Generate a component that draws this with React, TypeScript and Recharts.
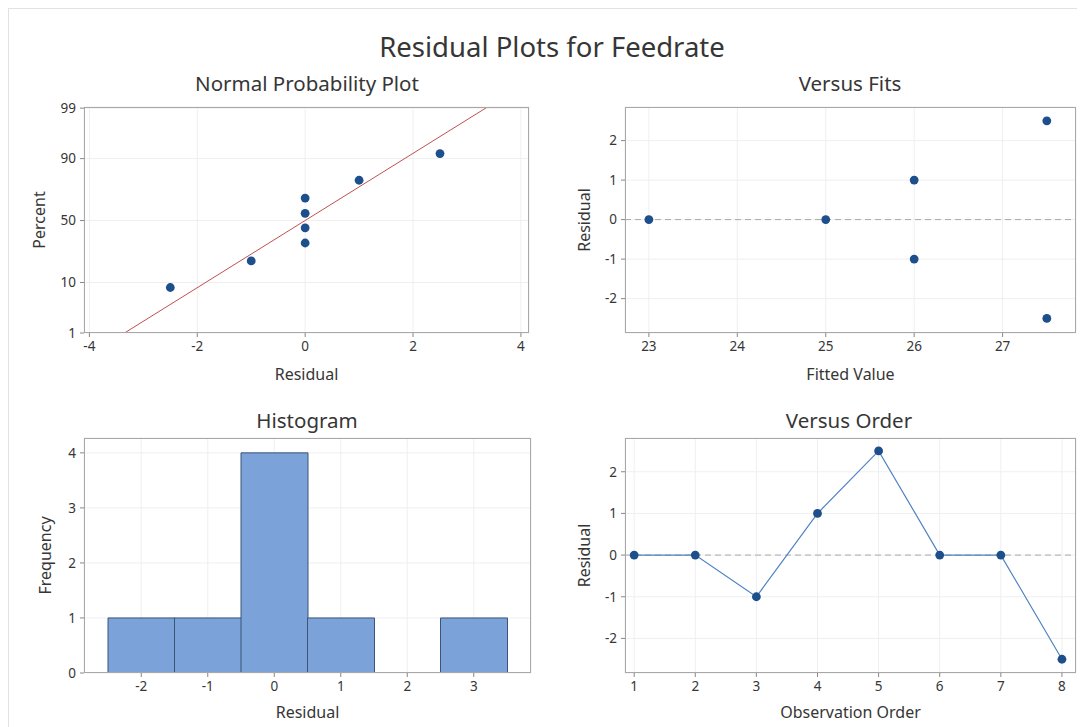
import { ScatterChart, Scatter, BarChart, Bar, XAxis, YAxis, CartesianGrid, ReferenceLine } from 'recharts';

// normal probability plot
const probResid = [-2.5, -1, 0, 0, 0, 0, 1, 2.5];
const probPercent = [8.3, 20.2, 32.1, 44.0, 56.0, 67.9, 79.8, 91.7];
const fitLineResid = [-3.35, 3.38];
const fitLinePercent = [1, 99.06];
const percentTicks = [1, 10, 50, 90, 99];
const probResidTicks = [-4, -2, 0, 2, 4];

// versus fits
const fittedValues = [23, 25, 26, 26, 27.5, 27.5];
const fitsResid = [0, 0, 1, -1, 2.5, -2.5];
const fittedTicks = [23, 24, 25, 26, 27];
const residTicks = [-2, -1, 0, 1, 2];

// histogram
const binLabels = [-2, -1, 0, 1, 2, 3];
const binCounts = [1, 1, 4, 1, 0, 1];
const freqTicks = [0, 1, 2, 3, 4];

// versus order
const orderNums = [1, 2, 3, 4, 5, 6, 7, 8];
const orderResid = [0, 0, -1, 1, 2.5, 0, 0, -2.5];

// normal quantile (Abramowitz & Stegun 26.2.23), used as the probability axis scale
function probit(p: number) {
  const q = p < 0.5 ? p : 1 - p;
  const t = Math.sqrt(-2 * Math.log(q));
  const z = t - (2.515517 + 0.802853 * t + 0.010328 * t * t) / (1 + 1.432788 * t + 0.189269 * t * t + 0.001308 * t * t * t);
  return p < 0.5 ? -z : z;
}

const probData = probResid.map((r, i) => ({ x: r, y: probit(probPercent[i] / 100) }));
const zTicks = percentTicks.map((p) => probit(p / 100));
const fitSegment = fitLineResid.map((r, i) => ({ x: r, y: probit(fitLinePercent[i] / 100) }));
const fitsData = fittedValues.map((f, i) => ({ x: f, y: fitsResid[i] }));
const histData = binLabels.map((b, i) => ({ label: b, count: binCounts[i] }));
const orderData = orderNums.map((o, i) => ({ x: o, y: orderResid[i] }));

const YW = 70;
const MT = 10;
const MR = 8;
const TEXT = '#363636';
const DOT = '#1c4f8c';
const GRID = '#efefef';
const FONT = '"Noto Sans", "Open Sans", sans-serif';

const tickStyle = { fontSize: 13.5, fill: TEXT };
const labelStyle = { fontSize: 16, fill: TEXT, textAnchor: 'middle' as const };

type Box = { left: number; top: number; w: number; h: number; xh: number };

const boxes: Box[] = [
  { left: 83, top: 106, w: 445, h: 226, xh: 58 },
  { left: 624, top: 106, w: 451, h: 226, xh: 58 },
  { left: 83, top: 437, w: 447, h: 235, xh: 50 },
  { left: 624, top: 437, w: 451, h: 235, xh: 50 },
];

const dot = (p: any) => <circle cx={p.cx} cy={p.cy} r={4.4} fill={DOT} />;

function Frame({ box }: { box: Box }) {
  return (
    <div
      style={{
        position: 'absolute',
        left: box.left - 8,
        top: box.top - 8,
        width: box.w,
        height: box.h,
        border: '1px solid #a8a8a8',
        boxSizing: 'border-box',
        pointerEvents: 'none',
      }}
    />
  );
}

function Title({ text, cx, cy, size }: { text: string; cx: number; cy: number; size: number }) {
  return (
    <div
      style={{
        position: 'absolute',
        left: cx - 8,
        top: cy - 8,
        transform: 'translate(-50%, -50%)',
        fontSize: size,
        lineHeight: 1,
        whiteSpace: 'nowrap',
        color: TEXT,
      }}
    >
      {text}
    </div>
  );
}

function place(box: Box) {
  return { position: 'absolute' as const, left: box.left - 8 - YW, top: box.top - 8 - MT };
}

// baseline of x-axis title sits `gap` px below the plot bottom
const xLabel = (value: string, box: Box, gap: number) => ({
  value,
  position: 'insideBottom' as const,
  offset: box.xh - gap,
  style: labelStyle,
});

export default function App() {
  const [b1, b2, b3, b4] = boxes;
  return (
    <div
      style={{
        position: 'relative',
        width: 1077,
        height: 719,
        borderTop: '1px solid #e2e2e2',
        borderLeft: '1px solid #e2e2e2',
        boxSizing: 'border-box',
        background: '#fff',
        fontFamily: FONT,
      }}
    >
      <Title text="Residual Plots for Feedrate" cx={551} cy={46} size={27.5} />
      <Title text="Normal Probability Plot" cx={306} cy={82} size={20.5} />
      <Title text="Versus Fits" cx={849} cy={82} size={20.5} />
      <Title text="Histogram" cx={306} cy={419} size={20.5} />
      <Title text="Versus Order" cx={848} cy={419} size={20.5} />

      {/* Normal probability plot */}
      <div style={place(b1)}>
        <ScatterChart width={YW + b1.w + MR} height={MT + b1.h + b1.xh} margin={{ top: MT, right: MR, left: 0, bottom: 0 }}>
          <CartesianGrid stroke={GRID} />
          <XAxis
            type="number"
            dataKey="x"
            domain={[-4.1, 4.15]}
            allowDataOverflow
            ticks={probResidTicks}
            interval={0}
            height={b1.xh}
            axisLine={false}
            tickSize={4}
            tickMargin={4}
            tick={tickStyle}
            tickLine={{ stroke: '#888' }}
            label={xLabel('Residual', b1, 47)}
          />
          <YAxis
            type="number"
            dataKey="y"
            domain={[probit(fitLinePercent[0] / 100), probit(fitLinePercent[1] / 100)]}
            allowDataOverflow
            ticks={zTicks}
            interval={0}
            width={YW}
            axisLine={false}
            tickSize={4}
            tickMargin={4}
            tick={tickStyle}
            tickLine={{ stroke: '#888' }}
            tickFormatter={(v: number) => String(percentTicks[zTicks.indexOf(v)] ?? '')}
            label={{ value: 'Percent', angle: -90, position: 'insideLeft', offset: 25, style: labelStyle }}
          />
          <ReferenceLine segment={fitSegment} stroke="#c0504d" strokeWidth={1} ifOverflow="hidden" />
          <Scatter data={probData} shape={dot} isAnimationActive={false} />
        </ScatterChart>
      </div>

      {/* Versus fits */}
      <div style={place(b2)}>
        <ScatterChart width={YW + b2.w + MR} height={MT + b2.h + b2.xh} margin={{ top: MT, right: MR, left: 0, bottom: 0 }}>
          <CartesianGrid stroke={GRID} />
          <XAxis
            type="number"
            dataKey="x"
            domain={[22.73, 27.83]}
            allowDataOverflow
            ticks={fittedTicks}
            interval={0}
            height={b2.xh}
            axisLine={false}
            tickSize={4}
            tickMargin={4}
            tick={tickStyle}
            tickLine={{ stroke: '#888' }}
            label={xLabel('Fitted Value', b2, 47)}
          />
          <YAxis
            type="number"
            dataKey="y"
            domain={[-2.87, 2.85]}
            allowDataOverflow
            ticks={residTicks}
            interval={0}
            width={YW}
            axisLine={false}
            tickSize={4}
            tickMargin={4}
            tick={tickStyle}
            tickLine={{ stroke: '#888' }}
            label={{ value: 'Residual', angle: -90, position: 'insideLeft', offset: 29, style: labelStyle }}
          />
          <ReferenceLine y={0} stroke="#a9a9a9" strokeDasharray="6 4" />
          <Scatter data={fitsData} shape={dot} isAnimationActive={false} />
        </ScatterChart>
      </div>

      {/* Histogram */}
      <div style={place(b3)}>
        <BarChart
          width={YW + b3.w + MR}
          height={MT + b3.h + b3.xh}
          data={histData}
          barCategoryGap={0}
          margin={{ top: MT, right: MR, left: 0, bottom: 0 }}
        >
          <CartesianGrid stroke={GRID} />
          <XAxis
            dataKey="label"
            padding={{ left: 24, right: 24 }}
            interval={0}
            height={b3.xh}
            axisLine={false}
            tickSize={4}
            tickMargin={4}
            tick={tickStyle}
            tickLine={{ stroke: '#888' }}
            label={xLabel('Residual', b3, 45)}
          />
          <YAxis
            type="number"
            domain={[0, 4.27]}
            allowDataOverflow
            ticks={freqTicks}
            interval={0}
            width={YW}
            axisLine={false}
            tickSize={4}
            tickMargin={4}
            tick={tickStyle}
            tickLine={{ stroke: '#888' }}
            label={{ value: 'Frequency', angle: -90, position: 'insideLeft', offset: 31, style: labelStyle }}
          />
          <Bar dataKey="count" fill="#7ba3d9" stroke="#3b5477" strokeWidth={1} isAnimationActive={false} />
        </BarChart>
      </div>

      {/* Versus order */}
      <div style={place(b4)}>
        <ScatterChart width={YW + b4.w + MR} height={MT + b4.h + b4.xh} margin={{ top: MT, right: MR, left: 0, bottom: 0 }}>
          <CartesianGrid stroke={GRID} />
          <XAxis
            type="number"
            dataKey="x"
            domain={[0.85, 8.23]}
            allowDataOverflow
            ticks={orderNums}
            interval={0}
            height={b4.xh}
            axisLine={false}
            tickSize={4}
            tickMargin={4}
            tick={tickStyle}
            tickLine={{ stroke: '#888' }}
            label={xLabel('Observation Order', b4, 45)}
          />
          <YAxis
            type="number"
            dataKey="y"
            domain={[-2.83, 2.81]}
            allowDataOverflow
            ticks={residTicks}
            interval={0}
            width={YW}
            axisLine={false}
            tickSize={4}
            tickMargin={4}
            tick={tickStyle}
            tickLine={{ stroke: '#888' }}
            label={{ value: 'Residual', angle: -90, position: 'insideLeft', offset: 29, style: labelStyle }}
          />
          <ReferenceLine y={0} stroke="#a9a9a9" strokeDasharray="6 4" />
          <Scatter
            data={orderData}
            shape={dot}
            line={{ stroke: '#4f82c2', strokeWidth: 1.2 }}
            isAnimationActive={false}
          />
        </ScatterChart>
      </div>

      <Frame box={b1} />
      <Frame box={b2} />
      <Frame box={b3} />
      <Frame box={b4} />
    </div>
  );
}
